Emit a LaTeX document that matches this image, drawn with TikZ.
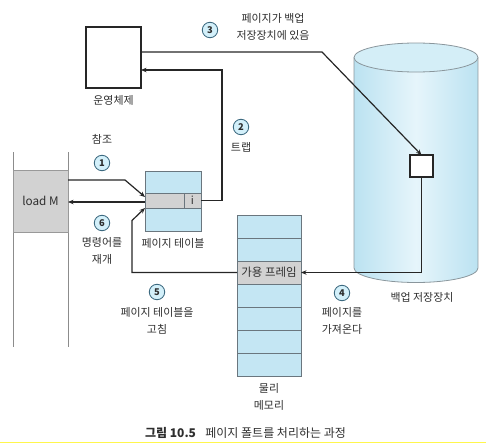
\documentclass[tikz,border=0pt]{standalone}
\usepackage{fontspec}
\setmainfont{Noto Sans CJK KR}
\usetikzlibrary{arrows.meta,calc}
\definecolor{txt}{HTML}{2E2E2E}
\definecolor{lblue}{HTML}{C4E6F3}
\definecolor{cylside}{HTML}{BBE2F1}
\definecolor{cylmid}{HTML}{E6F5FB}
\definecolor{cyltop}{HTML}{D4EEF7}
\definecolor{cylline}{HTML}{8A969C}
\definecolor{rowline}{HTML}{6A767E}
\definecolor{gbox}{HTML}{D2D2D2}
\definecolor{numfill}{HTML}{D3F0FA}
\definecolor{numline}{HTML}{3D6A80}
\newcommand{\myfs}{\fontsize{8.2pt}{12.75pt}\selectfont}
\begin{document}
\begin{tikzpicture}[x=0.75pt,y=-0.75pt,
  blackbox/.style={draw=black!85, line width=0.9pt, fill=white, inner sep=0pt, outer sep=0pt},
  bluebox/.style={draw=rowline, line width=0.55pt, fill=lblue, inner sep=0pt, outer sep=0pt},
  graybox/.style={draw=rowline, line width=0.55pt, fill=gbox, inner sep=0pt, outer sep=0pt, text=txt, font=\myfs},
  num/.style={circle, draw=numline, fill=numfill, line width=0.65pt, minimum size=11.6pt, inner sep=0pt, text=txt, font=\fontsize{7pt}{7pt}\selectfont\bfseries},
  lab/.style={text=txt, align=center, font=\myfs, inner sep=0pt},
  arr/.style={draw=black!85, line width=0.9pt, -{Stealth[length=4.2pt,width=3.4pt]}},
  procline/.style={draw=black!45, line width=0.6pt}
]
\useasboundingbox (0,0) rectangle (486,443);

% backing store cylinder
\path[left color=cylside, right color=cylside, middle color=cylmid]
  (354,57.5) -- (354,268) arc[start angle=180, end angle=360, x radius=46.5pt, y radius=10.875pt] -- (478,57.5) -- cycle;
\draw[cylline, line width=0.6pt]
  (354,57.5) -- (354,268) arc[start angle=180, end angle=360, x radius=46.5pt, y radius=10.875pt] -- (478,57.5);
\draw[cylline, line width=0.6pt, fill=cyltop] (416,57.5) ellipse [x radius=46.5pt, y radius=10.875pt];
\node[lab] (bsl) at (422,297) {백업 저장장치};
\node[blackbox, minimum width=23*0.75pt, minimum height=22*0.75pt] (bs) at (421.5,166) {};

% operating system
\node[blackbox, minimum width=55*0.75pt, minimum height=61*0.75pt] (os) at (113.5,57.5) {};
\node[lab] (osl) at (113.5,100) {운영체제};

% process
\draw[procline] (13,152) -- (13,347);
\draw[procline] (68,152) -- (68,347);
\node[graybox, draw=black!40, minimum width=55*0.75pt, minimum height=62*0.75pt, font=\fontsize{8.8pt}{10pt}\selectfont] (lm) at (40.5,201) {load M};

% page table
\node[bluebox, minimum width=56*0.75pt, minimum height=60*0.75pt] (pt) at (173,201) {};
\node[graybox, minimum width=39*0.75pt, minimum height=15*0.75pt] (ptrow) at (164.5,200.5) {};
\node[graybox, minimum width=17*0.75pt, minimum height=15*0.75pt] (icell) at (192.5,200.5) {i};
\node[lab] (ptl) at (173,243) {페이지 테이블};

% physical memory
\foreach \i in {1,2,4,5,6,7} {
  \node[bluebox, minimum width=64*0.75pt, minimum height=23*0.75pt] (m\i) at (269,{215+23*(\i-0.5)}) {};
}
\node[graybox, minimum width=64*0.75pt, minimum height=23*0.75pt, font=\fontsize{8.6pt}{10pt}\selectfont] (free) at (269,272.5) {가용 프레임};
\node[lab] (meml) at (269,396.5) {물리\\메모리};

% connectors
\draw[arr] ([yshift=15.75pt]lm.east) -- ++(57,0) -- ([yshift=3pt]pt.west);
\draw[arr] ([yshift=-0.75pt]pt.west) -- ([yshift=-0.75pt]lm.east);
\draw[arr] (icell.east) -- ++(21,0) |- ([yshift=-9.375pt]os.east);
\draw[arr] ([yshift=4.125pt]os.east) -- ++(181,0) -- (bs.north);
\draw[arr] (bs.south) |- (free.east);
\draw[arr] (free.west) -- ++(-105,0) -- ++(0,-52) -- ([yshift=-5.25pt]pt.west);

% step numbers and labels
\node[num] (n1) at (102,163) {1};
\node[lab] (l1) at (102,139) {참조};
\node[num] (n2) at (241,127) {2};
\node[lab] (l2) at (241,147) {트랩};
\node[num] (n3) at (210,30) {3};
\node[lab] (l3) at (273,26.5) {페이지가 백업\\저장장치에 있음};
\node[num] (n4) at (342,293) {4};
\node[lab] (l4) at (342,320.5) {페이지를\\가져온다};
\node[num] (n5) at (157,292) {5};
\node[lab] (l5) at (157,320.5) {페이지 테이블을\\고침};
\node[num] (n6) at (102,223) {6};
\node[lab] (l6) at (102,250.5) {명령어를\\재개};

% caption
\node[lab, font=\fontsize{9pt}{11pt}\selectfont] (cap) at (245.5,433) {{\bfseries 그림 10.5}\hspace{7pt}페이지 폴트를 처리하는 과정};
\draw[yellow!70, line width=0.75pt] (0,442.3) -- (486,442.3);
\end{tikzpicture}
\end{document}
